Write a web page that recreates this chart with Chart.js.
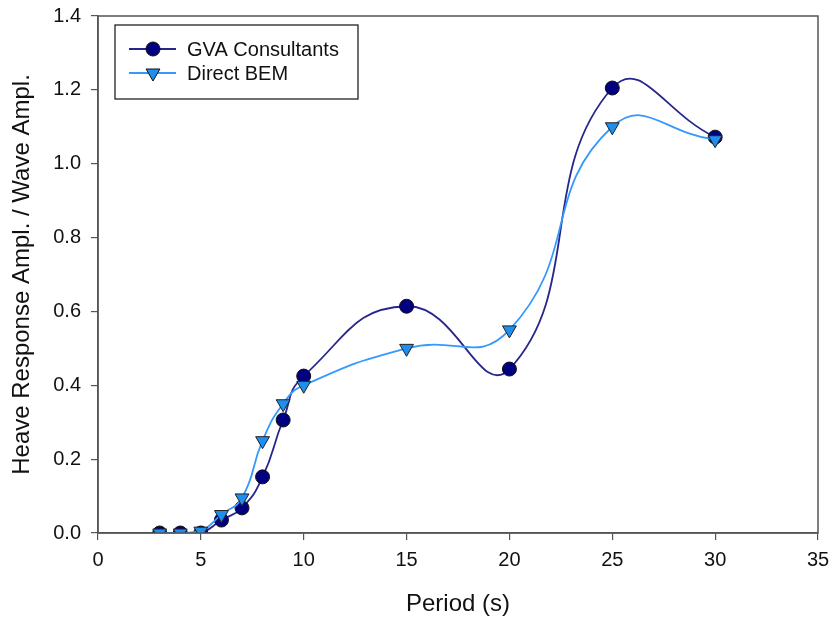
<!DOCTYPE html>
<html><head><meta charset="utf-8">
<script src="https://cdn.jsdelivr.net/npm/chart.js@4"></script>
<style>html,body{margin:0;padding:0;background:#fff}#w{width:831px;height:618px}</style>
</head><body><div id="w"><canvas id="c" width="831" height="618"></canvas></div>
<script>
const periods = [3, 4, 5, 6, 7, 8, 9, 10, 15, 20, 25, 30];
const gvaValues = [0, 0, 0, 0.035, 0.068, 0.152, 0.306, 0.425, 0.614, 0.444, 1.205, 1.072];
const bemValues = [0, 0, 0.005, 0.05, 0.095, 0.25, 0.35, 0.40, 0.50, 0.55, 1.10, 1.065];
const xTicks = [0, 5, 10, 15, 20, 25, 30, 35];
const yTicks = [0.0, 0.2, 0.4, 0.6, 0.8, 1.0, 1.2, 1.4];
const seriesLabels = ['GVA Consultants', 'Direct BEM'];

const FONT = 'Liberation Sans, Arial, sans-serif';

const framePlugin = {
  id: 'frame',
  afterDatasetsDraw(chart) {
    const {ctx, chartArea: a} = chart;
    ctx.save();
    ctx.strokeStyle = '#555';
    ctx.lineWidth = 1.5;
    ctx.strokeRect(a.left, a.top, a.right - a.left, a.bottom - a.top);
    ctx.restore();
  },
  afterDraw(chart) {
    const {ctx} = chart;
    const ds = chart.data.datasets;
    ctx.save();
    ctx.strokeStyle = '#222';
    ctx.lineWidth = 1.3;
    ctx.fillStyle = '#fff';
    ctx.fillRect(115, 25, 243, 74);
    ctx.strokeRect(115, 25, 243, 74);
    const rows = [49, 73];
    ds.forEach((d, i) => {
      const y = rows[i];
      ctx.strokeStyle = d.borderColor;
      ctx.lineWidth = 1.8;
      ctx.beginPath(); ctx.moveTo(129, y); ctx.lineTo(176, y); ctx.stroke();
      ctx.fillStyle = d.pointBackgroundColor;
      ctx.strokeStyle = '#111';
      ctx.lineWidth = 1;
      if (i === 0) {
        ctx.beginPath(); ctx.arc(153, y, d.pointRadius, 0, Math.PI * 2); ctx.fill(); ctx.stroke();
      } else {
        const r = d.pointRadius;
        ctx.beginPath();
        ctx.moveTo(153 - r * 0.866, y - r * 0.5);
        ctx.lineTo(153 + r * 0.866, y - r * 0.5);
        ctx.lineTo(153, y + r);
        ctx.closePath(); ctx.fill(); ctx.stroke();
      }
      ctx.fillStyle = '#111';
      ctx.font = '20px ' + FONT;
      ctx.textBaseline = 'alphabetic';
      ctx.textAlign = 'left';
      ctx.fillText(d.label, 187, y + 7);
    });
    ctx.restore();
  }
};

function noPad(s) { s.paddingTop = 0; s.paddingBottom = 0; s.paddingLeft = 0; s.paddingRight = 0; }

new Chart(document.getElementById('c'), {
  type: 'line',
  data: {
    datasets: [
      {
        label: seriesLabels[0],
        data: periods.map((p, i) => ({x: p, y: gvaValues[i]})),
        borderColor: '#26268c',
        borderWidth: 1.8,
        pointBackgroundColor: '#000080',
        pointBorderColor: '#111',
        pointBorderWidth: 1,
        pointRadius: 7,
        pointStyle: 'circle',
        tension: 0.5,
        order: 2
      },
      {
        label: seriesLabels[1],
        data: periods.map((p, i) => ({x: p, y: bemValues[i]})),
        borderColor: '#3399ff',
        borderWidth: 1.8,
        pointBackgroundColor: '#1e8fef',
        pointBorderColor: '#222',
        pointBorderWidth: 1,
        pointRadius: 8,
        pointStyle: 'triangle',
        rotation: 180,
        tension: 0.5,
        order: 1
      }
    ]
  },
  options: {
    responsive: false,
    animation: false,
    devicePixelRatio: 1,
    layout: {padding: {left: 0, top: 16, right: 13, bottom: 0}},
    plugins: {legend: {display: false}, tooltip: {enabled: false}},
    scales: {
      x: {
        type: 'linear', min: 0, max: 35,
        afterBuildTicks: s => { s.ticks = xTicks.map(v => ({value: v})); },
        afterFit: s => { s.height = 85; noPad(s); },
        grid: {drawOnChartArea: false, drawTicks: true, tickLength: 7, color: '#555', lineWidth: 1.2},
        border: {display: true, color: '#555', width: 1.5},
        ticks: {color: '#111', font: {size: 20, family: FONT}, padding: 8},
        title: {display: true, text: 'Period (s)', color: '#111', font: {size: 24, family: FONT}, padding: {top: 0, bottom: -1}}
      },
      y: {
        type: 'linear', min: 0, max: 1.4,
        afterBuildTicks: s => { s.ticks = yTicks.map(v => ({value: v})); },
        afterFit: s => { s.width = 98; noPad(s); },
        grid: {drawOnChartArea: false, drawTicks: true, tickLength: 7, color: '#555', lineWidth: 1.2},
        border: {display: true, color: '#555', width: 1.5},
        ticks: {color: '#111', font: {size: 20, family: FONT}, padding: 10, callback: v => v.toFixed(1)},
        title: {display: true, text: 'Heave Response Ampl. / Wave Ampl.', color: '#111', font: {size: 24, family: FONT}, padding: {top: 8, bottom: 0}}
      }
    }
  },
  plugins: [framePlugin]
});
</script>
</body></html>
